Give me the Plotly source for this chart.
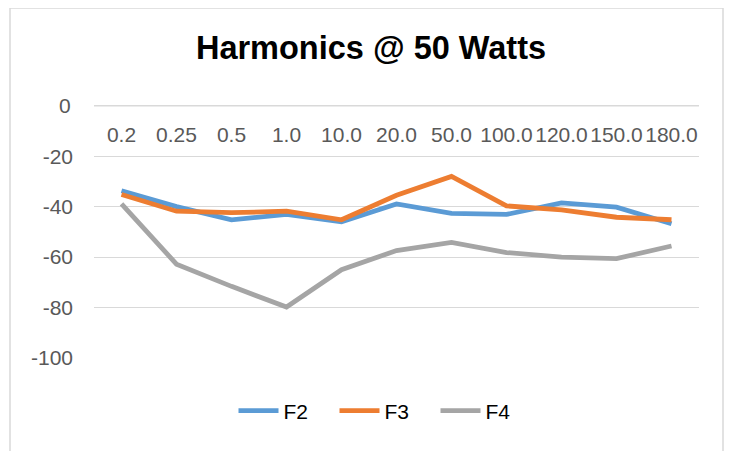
import plotly.graph_objects as go

categories = ["0.2", "0.25", "0.5", "1.0", "10.0", "20.0", "50.0", "100.0", "120.0", "150.0", "180.0"]
f2 = [-33.7, -40.0, -45.2, -43.1, -46.0, -38.9, -42.7, -43.1, -38.5, -40.2, -46.8]
f3 = [-35.2, -41.8, -42.4, -41.8, -45.2, -35.5, -28.0, -39.7, -41.3, -44.2, -45.2]
f4 = [-38.9, -62.8, -71.6, -79.8, -65.0, -57.4, -54.2, -58.2, -60.0, -60.6, -55.6]
y_ticks = [0, -20, -40, -60, -80, -100]
y_tick_text = ["0", "-20", "-40", "-60", "-80", "-100"]

series = [("F2", f2, "#5B9BD5"), ("F3", f3, "#ED7D31"), ("F4", f4, "#A5A5A5")]

fig = go.Figure()
for name, vals, color in series:
    fig.add_trace(go.Scatter(
        x=categories, y=vals, name=name, mode="lines",
        line=dict(color=color, width=4.8),
    ))

font_family = "Liberation Sans, Arial, sans-serif"
grid_color = "#D9D9D9"
tick_color = "#595959"
tick_size = 21

# page body adds an 8px offset; compensate in margins
off = 8
fig.update_layout(
    width=733, height=451,
    margin=dict(l=94 - off, r=733 - (94 - off) - 605, t=105 - off, b=451 - (105 - off) - 253,
                autoexpand=False),
    paper_bgcolor="white", plot_bgcolor="white",
    title=dict(text="<b>Harmonics @ 50 Watts</b>", x=(371 - off) / 733, xanchor="center",
               y=1 - (48 - off) / 451, yanchor="middle",
               font=dict(family=font_family, size=32.5, color="black")),
    showlegend=True,
    legend=dict(orientation="h", x=(385 - 94) / 605, xanchor="center",
                y=(358 - 411) / 253, yanchor="middle",
                font=dict(family=font_family, size=21, color="black"),
                entrywidth=46, entrywidthmode="pixels", itemwidth=40,
                bgcolor="rgba(0,0,0,0)"),
    xaxis=dict(type="category", side="top", ticklabelposition="inside",
               range=[-0.5, 10.5], automargin=False,
               showgrid=False, showline=False, zeroline=False, ticks="",
               tickangle=0, ticklabelstandoff=19,
               tickfont=dict(family=font_family, size=tick_size, color=tick_color)),
    yaxis=dict(range=[-100, 0.3], tickvals=y_ticks, ticktext=y_tick_text,
               showgrid=True, automargin=False,
               gridcolor=grid_color, gridwidth=1.3, zeroline=False, showline=False,
               ticks="", ticklabelstandoff=20,
               tickfont=dict(family=font_family, size=tick_size, color=tick_color)),
    shapes=[
        dict(type="rect", xref="paper", yref="paper",
             x0=(10 - 94) / 605, x1=(723 - 94) / 605,
             y0=(358 - 470) / 253, y1=(358 - 8) / 253,
             line=dict(color=grid_color, width=1.5), fillcolor="rgba(0,0,0,0)",
             layer="below"),
        # top gridline at 0 (hidden by plotly at the top-side axis)
        dict(type="line", xref="x domain", yref="y", x0=0, x1=1, y0=y_ticks[0], y1=y_ticks[0],
             line=dict(color=grid_color, width=1.3), layer="below"),
    ],
    annotations=[
        dict(text=y_tick_text[0], xref="paper", yref="y", x=(73 - 94) / 605, y=y_ticks[0],
             xanchor="right", yanchor="middle", showarrow=False,
             font=dict(family=font_family, size=tick_size, color=tick_color)),
    ],
)

fig.write_html("out.html")
